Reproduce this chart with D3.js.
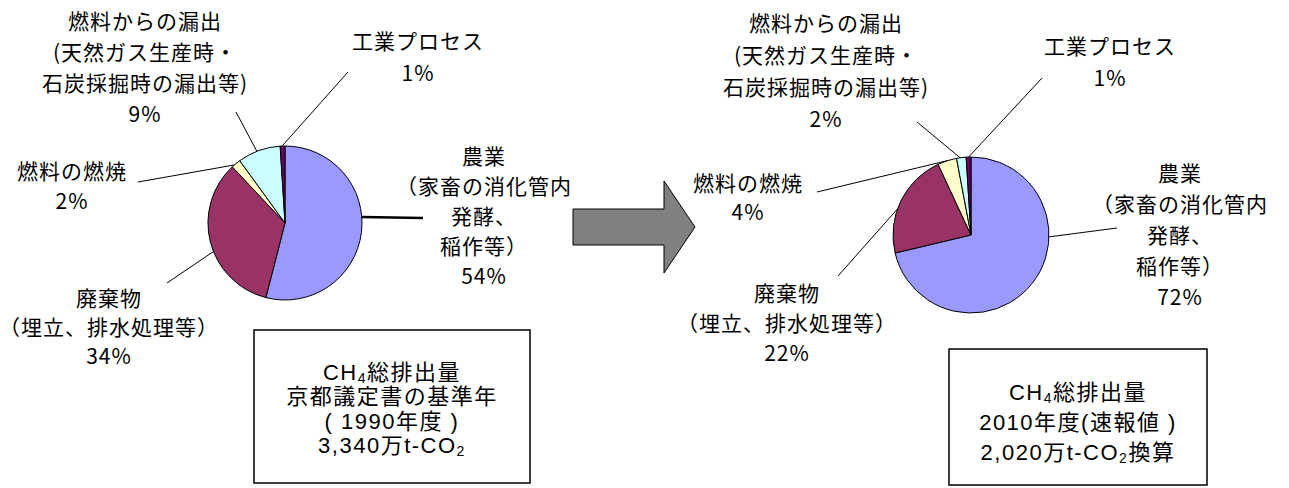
<!DOCTYPE html>
<html>
<head>
<meta charset="utf-8">
<script src="https://cdn.jsdelivr.net/npm/d3@7"></script>
<style>
  body { margin: 0; background: #fff; }
  text { font-family: "Noto Sans CJK JP", "Noto Sans", sans-serif; fill: #000; }
</style>
</head>
<body>
<script>
// data
var categories = ["農業", "廃棄物", "燃料の燃焼", "燃料からの漏出", "工業プロセス"];
var labelLines = [
  ["農業", "（家畜の消化管内", "発酵、", "稲作等）"],
  ["廃棄物", "（埋立、排水処理等）"],
  ["燃料の燃焼"],
  ["燃料からの漏出", "(天然ガス生産時・", "石炭採掘時の漏出等)"],
  ["工業プロセス"]
];
var values1990 = [54, 34, 2, 9, 1];
var values2010 = [72, 22, 4, 2, 1];
var box1990 = ["CH|4|総排出量", "京都議定書の基準年", "( 1990年度 )", "3,340万t-CO|2|"];
var box2010 = ["CH|4|総排出量", "2010年度(速報値 )", " 2,020万t-CO|2|換算"];

var colors = ["#9999FF", "#993366", "#FFFFCC", "#CCFFFF", "#660066"];

var screen = {width: 1289, height: 488};

var svg = d3.select("body")
  .append("svg")
  .attr("width", screen.width)
  .attr("height", screen.height);

// label placement, one per category (t = where on the slice the leader line starts)
var layout1990 = [
  {t: 0.44, lx: 423, ly: 218, sw: 2.5, cx: 484, y0: 155, dy: 30},
  {t: 0.44, lx: 167, ly: 283, sw: 1, cx: 109, y0: 297, dy: 29},
  {t: 0.3, lx: 138, ly: 182, sw: 1, cx: 72, y0: 170, dy: 30},
  {t: 0.45, lx: 236, ly: 112, sw: 1, cx: 145, y0: 20, dy: 31},
  {t: 0.4, lx: 348, ly: 72, sw: 1, cx: 418, y0: 40, dy: 32}
];
var layout2010 = [
  {t: 0.356, lx: 1117, ly: 228, sw: 1, cx: 1180, y0: 172, dy: 31},
  {t: 0.42, lx: 838, ly: 276, sw: 1, cx: 787, y0: 292, dy: 30},
  {t: 0.51, lx: 817, ly: 192, sw: 1, cx: 748, y0: 182, dy: 29},
  {t: 0.38, lx: 917, ly: 122, sw: 1, cx: 826, y0: 22, dy: 32},
  {t: 0.5, lx: 1042, ly: 78, sw: 1, cx: 1110, y0: 45, dy: 32}
];

var drawPie = function(values, cx, cy, r, layout)
{
  var pie = d3.pie().sort(null).value(function(d) { return d; });
  var arcs = pie(values);
  var arc = d3.arc().innerRadius(0).outerRadius(r);

  var g = svg.append("g")
    .attr("transform", "translate(" + cx + "," + cy + ")");

  g.selectAll("path")
    .data(arcs)
    .enter()
    .append("path")
    .attr("d", arc)
    .attr("fill", function(d, i) { return colors[i]; })
    .attr("stroke", "#000")
    .attr("stroke-width", 1);

  // leader lines
  svg.append("g")
    .selectAll("line")
    .data(arcs)
    .enter()
    .append("line")
    .attr("x1", function(d, i) {
      var a = d.startAngle + layout[i].t * (d.endAngle - d.startAngle);
      return cx + r * Math.sin(a);
    })
    .attr("y1", function(d, i) {
      var a = d.startAngle + layout[i].t * (d.endAngle - d.startAngle);
      return cy - r * Math.cos(a);
    })
    .attr("x2", function(d, i) { return layout[i].lx; })
    .attr("y2", function(d, i) { return layout[i].ly; })
    .attr("stroke", "#000")
    .attr("stroke-width", function(d, i) { return layout[i].sw; });

  // labels
  var labels = svg.append("g")
    .selectAll("text")
    .data(arcs)
    .enter()
    .append("text")
    .attr("text-anchor", "middle")
    .style("font-size", "21px")
    .style("letter-spacing", "1px");

  labels.each(function(d, i) {
    var lines = labelLines[i].concat([values[i] + "%"]);
    var L = layout[i];
    d3.select(this)
      .selectAll("tspan")
      .data(lines)
      .enter()
      .append("tspan")
      .attr("x", L.cx)
      .attr("y", function(s, j) { return L.y0 + j * L.dy; })
      .attr("dominant-baseline", "central")
      .text(function(s) { return s; });
  });
}

drawPie(values1990, 285, 223, 77, layout1990);
drawPie(values2010, 971, 235, 78, layout2010);

// arrow between the pies
svg.append("path")
  .attr("d", "M573,209 L664,209 L664,181 L695,227 L664,273 L664,245 L573,245 Z")
  .attr("fill", "#808080")
  .attr("stroke", "#000")
  .attr("stroke-width", 1);

// total boxes
var drawBox = function(lines, x, y, w, h, y0, dy)
{
  svg.append("rect")
    .attr("x", x)
    .attr("y", y)
    .attr("width", w)
    .attr("height", h)
    .attr("fill", "#fff")
    .attr("stroke", "#000")
    .attr("stroke-width", 1.5);

  lines.forEach(function(line, j) {
    var t = svg.append("text")
      .attr("x", x + w / 2)
      .attr("y", y0 + j * dy)
      .attr("text-anchor", "middle")
      .attr("dominant-baseline", "central")
      .style("font-family", "'Liberation Sans', 'Noto Sans CJK JP', sans-serif")
      .style("font-size", "22px")
      .style("letter-spacing", "1.5px");
    // "|" marks a subscript part
    line.split("|").forEach(function(part, k) {
      if (part === "") return;
      var sp = t.append("tspan").text(part);
      if (k % 2 === 1) {
        sp.style("font-size", "14px").attr("dy", 6);
      } else if (k > 0) {
        sp.attr("dy", -6);
      }
    });
  });
}

drawBox(box1990, 254, 330, 276, 153, 372, 24.3);
drawBox(box2010, 949, 349, 258, 136, 392, 30);
</script>
</body>
</html>
